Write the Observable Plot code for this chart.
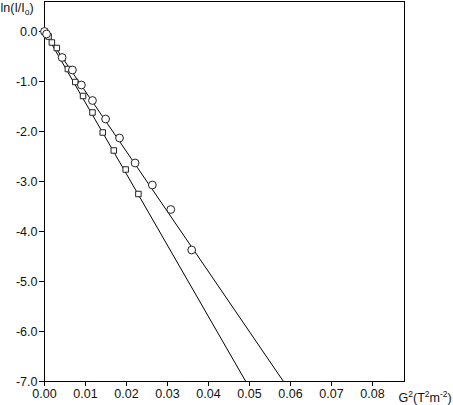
<!DOCTYPE html>
<html>
<head>
<meta charset="utf-8">
<script src="https://cdn.jsdelivr.net/npm/d3@7"></script>
<script src="https://cdn.jsdelivr.net/npm/@observablehq/plot@0.6"></script>
<style>
  html, body { margin: 0; padding: 0; background: #fff; }
  #chart svg { display: block; }
</style>
</head>
<body>
<div id="chart"></div>
<script>
// Circle series (G^2 in T^2 m^-2, ln(I/I0))
const circleG2 = [0.0000, 0.0005, 0.0043, 0.0068, 0.0090, 0.0117, 0.0149, 0.0183, 0.0221, 0.0263, 0.0308, 0.0359];
const circleLn = [0.00, -0.05, -0.52, -0.77, -1.07, -1.38, -1.75, -2.13, -2.63, -3.07, -3.56, -4.37];
// Square series
const squareG2 = [0.0000, 0.0010, 0.0018, 0.0030, 0.0044, 0.0057, 0.0075, 0.0094, 0.0117, 0.0142, 0.0169, 0.0198, 0.0229];
const squareLn = [0.00, -0.10, -0.22, -0.33, -0.53, -0.75, -1.01, -1.29, -1.62, -2.02, -2.38, -2.76, -3.25];
// Fitted slopes of the straight lines through the origin
const circleSlope = -120.1;
const squareSlope = -142.6;
// Axis ticks
const xTicks = [0, 0.01, 0.02, 0.03, 0.04, 0.05, 0.06, 0.07, 0.08];
const yTicks = [0, -1, -2, -3, -4, -5, -6, -7];
// Axis titles as [text, "sup"/"sub"/""] runs
const xLabelParts = [["G", ""], ["2", "sup"], ["(T", ""], ["2", "sup"], ["m", ""], ["-2", "sup"], [")", ""]];
const yLabelParts = [["ln(I/I", ""], ["o", "sub"], [")", ""]];

const xDomain = [0, 0.0878];
const yDomain = [-7, 0.6];

const circles = circleG2.map((g, i) => ({g, ln: circleLn[i]}));
const squares = squareG2.map((g, i) => ({g, ln: squareLn[i]}));
function fitLine(slope) {
  const g0 = 0, gEnd = yDomain[0] / slope;
  return [{g: g0, ln: slope * g0}, {g: gEnd, ln: slope * gEnd}];
}
const circleFit = fitLine(circleSlope);
const squareFit = fitLine(squareSlope);

const font = "'Liberation Sans', Arial, Helvetica, sans-serif";

const chart = Plot.plot({
  width: 453,
  height: 405,
  marginLeft: 44,
  marginRight: 49,
  marginTop: 1,
  marginBottom: 24,
  style: {fontFamily: font, fontSize: "12px", color: "#111", background: "#fff"},
  x: {domain: xDomain, label: null},
  y: {domain: yDomain, label: null},
  marks: [
    Plot.frame({stroke: "#000", strokeWidth: 1}),
    Plot.axisX({ticks: xTicks, tickFormat: d3.format(".2f"), tickSize: 5, tickPadding: 3, fontSize: 12.5, stroke: "#000"}),
    Plot.axisY({ticks: yTicks, tickFormat: d => d3.format(".1f")(d).replace("−", "-"), tickSize: 5, tickPadding: 2, fontSize: 12.5, stroke: "#000"}),
    Plot.line(circleFit, {x: "g", y: "ln", stroke: "#000", strokeWidth: 1, clip: true}),
    Plot.line(squareFit, {x: "g", y: "ln", stroke: "#000", strokeWidth: 1, clip: true}),
    Plot.dot(squares, {x: "g", y: "ln", symbol: "square", r: 3.1, fill: "#fff", stroke: "#222", strokeWidth: 1}),
    Plot.dot(circles, {x: "g", y: "ln", symbol: "circle", r: 3.9, fill: "#fff", stroke: "#222", strokeWidth: 1}),
    Plot.text(["ylabel"], {frameAnchor: "top-left", dx: -44, dy: 2, text: d => d, textAnchor: "start", lineAnchor: "top", fontSize: 12.5, fill: "#111", className: "ylab"}),
    Plot.text(["xlabel"], {frameAnchor: "bottom-right", dx: -6, dy: 16, text: d => d, textAnchor: "start", lineAnchor: "middle", fontSize: 12.5, fill: "#111", className: "xlab"})
  ]
});

function fillRuns(sel, parts) {
  const t = d3.select(chart).select(sel).select("text");
  t.text(null);
  for (const [s, kind] of parts) {
    const ts = t.append("tspan").text(s);
    if (kind === "sup") ts.attr("font-size", "8.5px").attr("baseline-shift", "5");
    else if (kind === "sub") ts.attr("font-size", "8.5px").attr("baseline-shift", "-3");
  }
}
fillRuns(".xlab", xLabelParts);
fillRuns(".ylab", yLabelParts);
document.getElementById("chart").appendChild(chart);
</script>
</body>
</html>
